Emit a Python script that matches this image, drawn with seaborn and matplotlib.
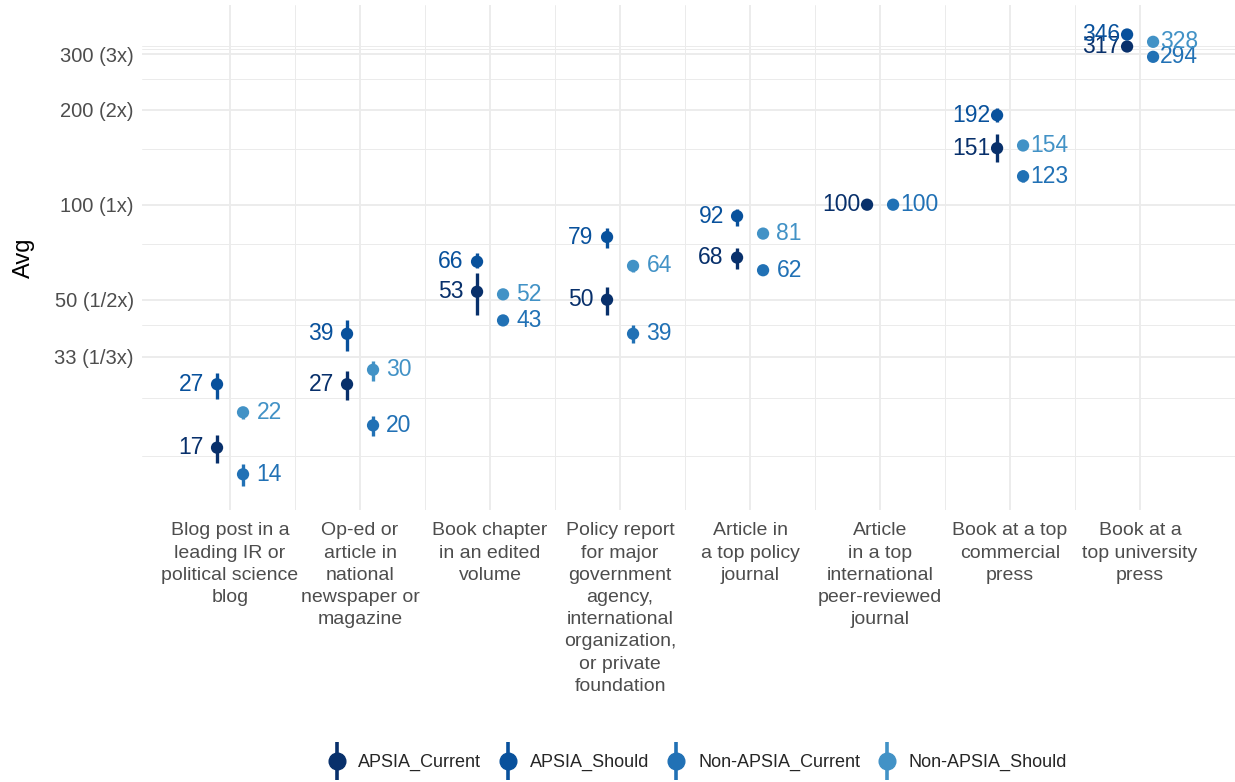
import numpy as np
import pandas as pd
import matplotlib
matplotlib.use("Agg")
import matplotlib.pyplot as plt
import seaborn as sns
from matplotlib.lines import Line2D
from matplotlib.legend_handler import HandlerTuple

sns.set_theme(style="white")
plt.rcParams['font.family'] = ['Liberation Sans', 'DejaVu Sans']

categories = [
    "Blog post in a\nleading IR or\npolitical science\nblog",
    "Op-ed or\narticle in\nnational\nnewspaper or\nmagazine",
    "Book chapter\nin an edited\nvolume",
    "Policy report\nfor major\ngovernment\nagency,\ninternational\norganization,\nor private\nfoundation",
    "Article in\na top policy\njournal",
    "Article\nin a top\ninternational\npeer-reviewed\njournal",
    "Book at a top\ncommercial\npress",
    "Book at a\ntop university\npress",
]

nan = np.nan
apsia_current = [17, 27, 53, 50, 68, 100, 151, 317]
apsia_current_lo = [15.2, 24.1, 44.8, 44.8, 62.7, 100, 137, 317]
apsia_current_hi = [18.7, 29.8, 60.9, 55.0, 73.0, 100, 167, 317]

apsia_should = [27, 39, 66, 79, 92, nan, 192, 346]
apsia_should_lo = [24.3, 34.4, 63.2, 73.0, 85.8, nan, 183, 346]
apsia_should_hi = [29.4, 43.2, 70.5, 84.6, 97.1, nan, 203, 346]

non_current = [14, 20, 43, 39, 62, 100, 123, 294]
non_current_lo = [12.9, 18.5, 42, 36.5, 61, 100, 118, 294]
non_current_hi = [15.1, 21.4, 44, 41.6, 63, 100, 129, 294]

non_should = [22, 30, 52, 64, 81, nan, 154, 328]
non_should_lo = [21.0, 27.7, 51, 61.3, 79.5, nan, 150, 328]
non_should_hi = [22.8, 32.0, 53, 66, 82.5, nan, 158, 328]

series_names = ["APSIA_Current", "APSIA_Should", "Non-APSIA_Current", "Non-APSIA_Should"]
colors = ["#08306B", "#08519C", "#2171B5", "#4292C6"]
palette = dict(zip(series_names, colors))

y_breaks = [33, 50, 100, 200, 300]
y_labels = ["33 (1/3x)", "50 (1/2x)", "100 (1x)", "200 (2x)", "300 (3x)"]
y_minor = [16, 24.5, 41.5, 75, 150, 250, 311, 317]

rows = []
for name, vals, lo, hi, side in [
    ("APSIA_Current", apsia_current, apsia_current_lo, apsia_current_hi, -1),
    ("APSIA_Should", apsia_should, apsia_should_lo, apsia_should_hi, -1),
    ("Non-APSIA_Current", non_current, non_current_lo, non_current_hi, 1),
    ("Non-APSIA_Should", non_should, non_should_lo, non_should_hi, 1),
]:
    for i in range(len(categories)):
        rows.append({"series": name, "idx": i + 1, "x": i + 1 + side * 0.1,
                     "value": vals[i], "lo": lo[i], "hi": hi[i], "side": side})
df = pd.DataFrame(rows).dropna(subset=["value"])

fig = plt.figure(figsize=(12.35, 7.82), dpi=100)
ax = fig.add_axes([0.115, 0.348, 0.885, 0.646])
ax.set_yscale("log")

# grid
for v in y_minor:
    ax.axhline(v, color="#EBEBEB", lw=0.7, zorder=0)
for v in y_breaks:
    ax.axhline(v, color="#EBEBEB", lw=1.3, zorder=0)
for i in range(1, len(categories)):
    ax.axvline(i + 0.5, color="#EBEBEB", lw=0.7, zorder=0)
for i in range(1, len(categories) + 1):
    ax.axvline(i, color="#EBEBEB", lw=1.3, zorder=0)

for _, r in df.iterrows():
    ax.vlines(r["x"], r["lo"], r["hi"], color=palette[r["series"]], lw=2.4, zorder=2)

sns.scatterplot(data=df, x="x", y="value", hue="series", palette=palette,
                s=78, edgecolor="none", legend=False, zorder=3, ax=ax)

for _, r in df.iterrows():
    ax.text(r["x"] + r["side"] * 0.2, r["value"], f"{r['value']:.0f}",
            ha="center", va="center", fontsize=16.5, color=palette[r["series"]], zorder=4)

ax.set_xlim(0.323, 8.73)
ax.set_ylim(10.8, 430)
ax.set_xticks(range(1, len(categories) + 1))
ax.set_xticklabels(categories, fontsize=14, color="#4D4D4D", linespacing=1.4, va="top")
ax.set_yticks(y_breaks)
ax.set_yticklabels(y_labels, fontsize=14.5, color="#4D4D4D")
ax.yaxis.set_minor_locator(matplotlib.ticker.NullLocator())
ax.tick_params(axis="x", length=0, pad=9)
ax.tick_params(axis="y", length=0, pad=6)
ax.set_xlabel("")
ax.set_ylabel("Avg", fontsize=17, color="black", labelpad=14)
for s in ax.spines.values():
    s.set_visible(False)

handles = []
for c in colors:
    bar = Line2D([], [], marker="|", color=c, markersize=28, markeredgewidth=2.6, linestyle="none")
    dot = Line2D([], [], marker="o", color=c, markersize=12, linestyle="none")
    handles.append((bar, dot))
fig.legend(handles, series_names, handler_map={tuple: HandlerTuple(ndivide=1)},
           loc="center", bbox_to_anchor=(0.564, 0.025), ncol=4, frameon=False,
           fontsize=13, handlelength=1.2, handletextpad=0.6, columnspacing=0.9)

fig.savefig("out.png", dpi=100)
